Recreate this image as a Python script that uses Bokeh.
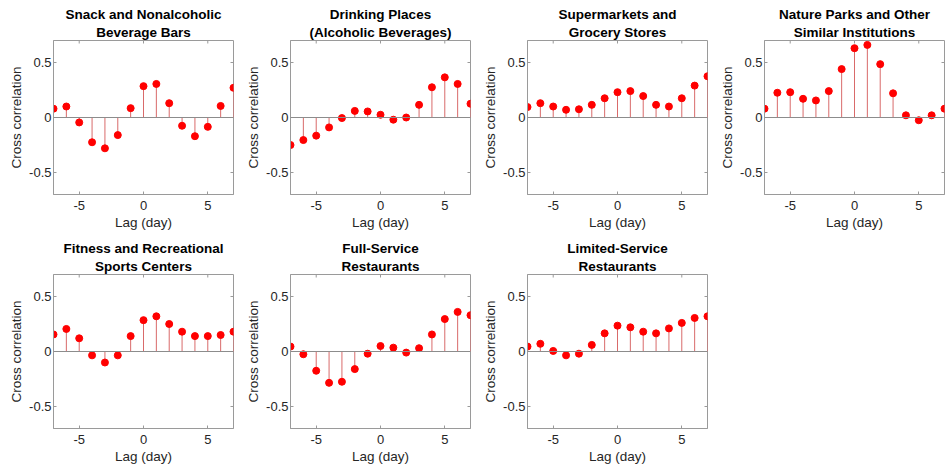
import math
from bokeh.plotting import figure
from bokeh.models import Span, Range1d, FixedTicker, Title
from bokeh.layouts import column, row
from bokeh.embed import file_html
from bokeh.resources import INLINE

lags = list(range(-7, 8))
titles = [
    ("Snack and Nonalcoholic", "Beverage Bars"),
    ("Drinking Places", "(Alcoholic Beverages)"),
    ("Supermarkets and", "Grocery Stores"),
    ("Nature Parks and Other", "Similar Institutions"),
    ("Fitness and Recreational", "Sports Centers"),
    ("Full-Service", "Restaurants"),
    ("Limited-Service", "Restaurants"),
]
snack = [0.08, 0.10, -0.045, -0.225, -0.28, -0.16, 0.085, 0.285, 0.305, 0.13, -0.075, -0.17, -0.085, 0.105, 0.27]
drinking = [-0.25, -0.205, -0.165, -0.09, -0.005, 0.06, 0.055, 0.025, -0.02, 0.0, 0.115, 0.275, 0.365, 0.305, 0.125]
supermarkets = [0.095, 0.13, 0.10, 0.07, 0.075, 0.115, 0.175, 0.23, 0.24, 0.195, 0.115, 0.10, 0.175, 0.29, 0.375]
nature = [0.08, 0.225, 0.23, 0.17, 0.155, 0.24, 0.44, 0.63, 0.66, 0.485, 0.22, 0.02, -0.025, 0.02, 0.08]
fitness = [0.155, 0.205, 0.12, -0.035, -0.10, -0.035, 0.14, 0.285, 0.32, 0.25, 0.18, 0.14, 0.14, 0.15, 0.18]
full_service = [0.045, -0.025, -0.175, -0.285, -0.275, -0.16, -0.02, 0.05, 0.035, -0.01, 0.03, 0.155, 0.295, 0.36, 0.33]
limited_service = [0.045, 0.07, 0.005, -0.035, -0.02, 0.06, 0.165, 0.235, 0.22, 0.18, 0.165, 0.21, 0.26, 0.305, 0.32]
series = [snack, drinking, supermarkets, nature, fitness, full_service, limited_service]
x_ticks = [-5, 0, 5]
x_tick_labels = ["-5", "0", "5"]
y_ticks = [-0.5, 0, 0.5]
y_tick_labels = ["-0.5", "0", "0.5"]
x_lim = (-7, 7)
y_lim = (-0.7, 0.7)

FONT = "Liberation Sans"
AX_COL = "#9a9a9a"
TXT_COL = "#262626"


def style_axis(ax, tick_standoff, label_standoff):
    ax.axis_line_color = AX_COL
    ax.major_tick_line_color = AX_COL
    ax.minor_tick_line_color = None
    ax.major_tick_in = 3
    ax.major_tick_out = 0
    ax.major_label_text_font = FONT
    ax.major_label_text_font_size = "13px"
    ax.major_label_text_color = TXT_COL
    ax.major_label_standoff = tick_standoff
    ax.axis_label_text_font = FONT
    ax.axis_label_text_font_size = "13.5px"
    ax.axis_label_text_font_style = "normal"
    ax.axis_label_text_color = TXT_COL
    ax.axis_label_standoff = label_standoff


def make_panel(title_lines, vals):
    p = figure(width=237, height=234, output_backend="svg", toolbar_location=None,
               x_range=Range1d(*x_lim), y_range=Range1d(*y_lim),
               x_axis_label="Lag (day)", y_axis_label="Cross correlation",
               min_border_left=53, min_border_right=4,
               min_border_top=40, min_border_bottom=40)
    p.title = None
    for i, line in enumerate(reversed(title_lines)):
        t = Title(text=line, align="center", text_font=FONT, text_font_size="13.5px",
                  text_font_style="bold", text_color="#000000", standoff=1, offset=0)
        p.add_layout(t, "above")
    p.grid.visible = False
    p.outline_line_color = AX_COL
    p.background_fill_color = "white"
    p.border_fill_color = "white"
    p.xaxis.ticker = FixedTicker(ticks=x_ticks)
    p.yaxis.ticker = FixedTicker(ticks=y_ticks)
    p.xaxis.major_label_overrides = dict(zip(x_ticks, x_tick_labels))
    p.yaxis.major_label_overrides = dict(zip(y_ticks, y_tick_labels))
    for ax in p.xaxis:
        style_axis(ax, 6, 2)
    for ax in p.yaxis:
        style_axis(ax, 2, 2)
    # inward ticks on the top and right edges of the box
    p.scatter(x=x_ticks, y=[y_lim[1]] * len(x_ticks), marker="dash", angle=math.pi / 2,
              size=6, line_color=AX_COL, line_width=1)
    p.scatter(x=[x_lim[1]] * len(y_ticks), y=y_ticks, marker="dash",
              size=6, line_color=AX_COL, line_width=1)
    p.add_layout(Span(location=0, dimension="width", line_color="#8c8c8c", line_width=1))
    p.segment(x0=lags, y0=[0] * len(lags), x1=lags, y1=vals, line_color="#d96a6a", line_width=1)
    p.scatter(lags, vals, size=7, fill_color="#ff0000", line_color="#ff0000")
    return p


panels = [make_panel(t, v) for t, v in zip(titles, series)]
layout = column(row(*panels[:4]), row(*panels[4:]))
open("out.html", "w").write(file_html(layout, INLINE))
